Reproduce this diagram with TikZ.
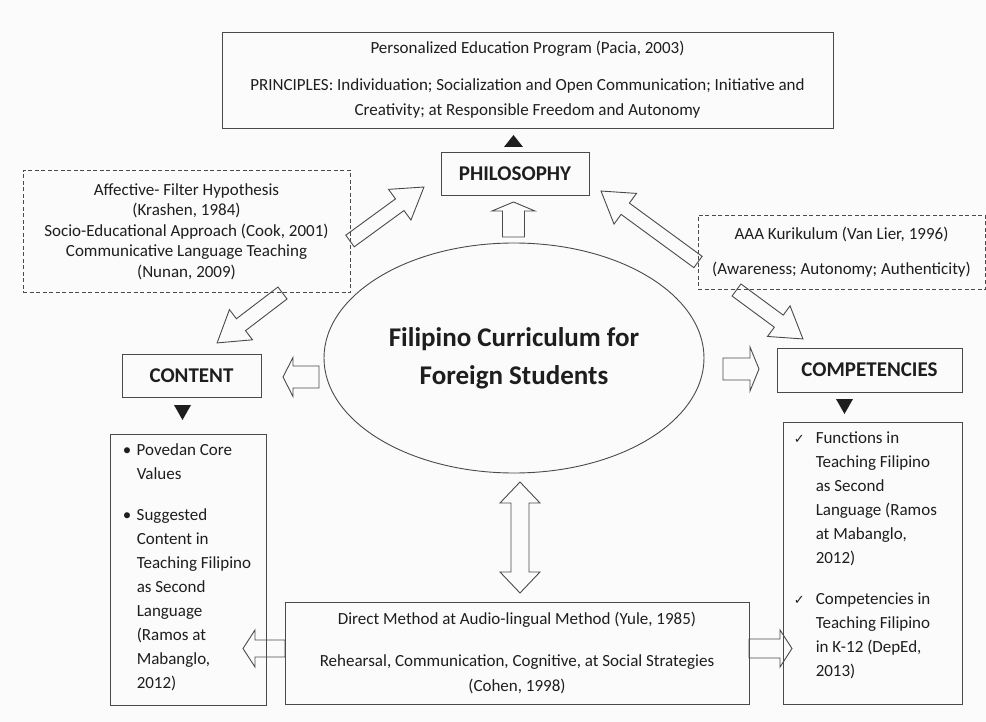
\documentclass[tikz,border=0pt]{standalone}
\usepackage{fontspec}
\setmainfont{Carlito}
\newfontfamily\symfont{DejaVu Sans}
\usetikzlibrary{shapes.geometric,calc}
\definecolor{ln}{HTML}{4A4A4A}
\definecolor{tx}{HTML}{1E1E1E}
\definecolor{bg}{HTML}{FBFBFB}

% hollow single-headed block arrow from coordinate #1 (tail) to #2 (tip)
% #3 shaft half width, #4 head half width, #5 head length
\newcommand\fatarrow[5]{%
  \pgfpointdiff{\pgfpointanchor{#1}{center}}{\pgfpointanchor{#2}{center}}%
  \pgfgetlastxy\fdx\fdy
  \pgfmathsetmacro\fang{atan2(\fdy,\fdx)}%
  \pgfmathsetmacro\flen{veclen(\fdx,\fdy)}%
  \pgfmathsetmacro\fbase{\flen-#5}%
  \draw[arrowline,shift={(#1)},rotate=\fang] (0,-#3) -- (\fbase,-#3) -- (\fbase,-#4) -- (\flen,0) -- (\fbase,#4) -- (\fbase,#3) -- (0,#3) -- cycle;
}
% hollow double-headed block arrow
\newcommand\dfatarrow[5]{%
  \pgfpointdiff{\pgfpointanchor{#1}{center}}{\pgfpointanchor{#2}{center}}%
  \pgfgetlastxy\fdx\fdy
  \pgfmathsetmacro\fang{atan2(\fdy,\fdx)}%
  \pgfmathsetmacro\flen{veclen(\fdx,\fdy)}%
  \pgfmathsetmacro\fbase{\flen-#5}%
  \draw[arrowline,shift={(#1)},rotate=\fang] (0,0) -- (#5,-#4) -- (#5,-#3) -- (\fbase,-#3) -- (\fbase,-#4) -- (\flen,0) -- (\fbase,#4) -- (\fbase,#3) -- (#5,#3) -- (#5,#4) -- cycle;
}

\begin{document}
\begin{tikzpicture}[x=1pt,y=-1pt,
  arrowline/.style={draw=ln,line width=0.9pt,line join=miter},
  box/.style={draw=ln,line width=0.9pt,rectangle,inner sep=0pt,text=tx,align=center},
  dbox/.style={box,dash pattern=on 4pt off 2.5pt},
  lab/.style={box,font=\bfseries\fontsize{21}{25}\selectfont},
  txt/.style={anchor=north west,inner sep=0pt,align=left,text=tx,font=\fontsize{17}{24}\selectfont},
  tri/.style={fill=tx},
]
\path[fill=bg] (0,0) rectangle (986,722);
\useasboundingbox (0,0) rectangle (986,722);

% boxes
\node[box,font=\fontsize{17}{25}\selectfont,minimum width=611,minimum height=96] (top) at (527.5,80)
  {Personalized Education Program (Pacia, 2003)\\[12pt]PRINCIPLES: Individuation; Socialization and Open Communication; Initiative and\\Creativity; at Responsible Freedom and Autonomy};
\node[lab,minimum width=148,minimum height=43] (phil) at (515,173.5) {PHILOSOPHY};
\node[dbox,font=\fontsize{17}{20.5}\selectfont,minimum width=327,minimum height=122] (dl) at (186.5,231.5)
  {Affective- Filter Hypothesis\\(Krashen, 1984)\\Socio-Educational Approach (Cook, 2001)\\Communicative Language Teaching\\(Nunan, 2009)};
\node[dbox,font=\fontsize{17}{20}\selectfont,minimum width=287,minimum height=74] (dr) at (841.5,252.5)
  {AAA Kurikulum (Van Lier, 1996)\\[15pt](Awareness; Autonomy; Authenticity)};
\node[draw=ln,line width=0.9pt,ellipse,minimum width=380,minimum height=230,inner sep=0pt,align=center,text=tx,
  font=\bfseries\fontsize{27}{38}\selectfont] (ell) at (514,358) {Filipino Curriculum for\\Foreign Students};
\node[lab,minimum width=139,minimum height=43] (content) at (191.5,375.5) {CONTENT};
\node[lab,minimum width=185,minimum height=44] (comp) at (869.5,370) {COMPETENCIES};
\node[box,minimum width=156,minimum height=271] (lc) at (188,569.5) {};
\node[box,minimum width=179,minimum height=282] (rc) at (872.5,563) {};
\node[box,font=\fontsize{17}{25}\selectfont,minimum width=464,minimum height=102] (bot) at (517,653)
  {Direct Method at Audio-lingual Method (Yule, 1985)\\[17pt]Rehearsal, Communication, Cognitive, at Social Strategies\\(Cohen, 1998)};

% list texts
\node[txt] (lct) at ($(lc.north west)+(13,10)$)
  {\makebox[14pt][l]{\textbullet}Povedan Core\\\hspace*{14pt}Values\\[17pt]%
   \makebox[14pt][l]{\textbullet}Suggested\\\hspace*{14pt}Content in\\\hspace*{14pt}Teaching Filipino\\\hspace*{14pt}as Second\\%
   \hspace*{14pt}Language\\\hspace*{14pt}(Ramos at\\\hspace*{14pt}Mabanglo,\\\hspace*{14pt}2012)};
\node[txt] (rct) at ($(rc.north west)+(11,10)$)
  {\makebox[22pt][l]{\symfont\fontsize{13}{24}\selectfont ✓}Functions in\\\hspace*{22pt}Teaching Filipino\\\hspace*{22pt}as Second\\%
   \hspace*{22pt}Language (Ramos\\\hspace*{22pt}at Mabanglo,\\\hspace*{22pt}2012)\\[17pt]%
   \makebox[22pt][l]{\symfont\fontsize{13}{24}\selectfont ✓}Competencies in\\\hspace*{22pt}Teaching Filipino\\\hspace*{22pt}in K-12 (DepEd,\\\hspace*{22pt}2013)};

% small black triangles
\coordinate (tri1) at (513.5,141);
\coordinate (tri2) at (182.5,412.5);
\coordinate (tri3) at (844.5,406.5);
\fill[tri] (tri1) ++(-9.5,6) -- ++(19,0) -- ++(-9.5,-12) -- cycle;
\fill[tri] (tri2) ++(-8.5,-7.5) -- ++(17,0) -- ++(-8.5,15) -- cycle;
\fill[tri] (tri3) ++(-8.5,-7.5) -- ++(17,0) -- ++(-8.5,15) -- cycle;

% block arrow end points
\coordinate (u1) at (513.5,237);   \coordinate (u2) at (513.5,202);
\coordinate (l1) at (319,377);     \coordinate (l2) at (283,377);
\coordinate (r1) at (723,369);     \coordinate (r2) at (759,369);
\coordinate (v1) at (520,593);     \coordinate (v2) at (520,482);
\coordinate (bl1) at (285,648.5);  \coordinate (bl2) at (243,648.5);
\coordinate (br1) at (749,648.5);  \coordinate (br2) at (792,648.5);
\coordinate (a1t) at (350,241);    \coordinate (a1h) at (424,187);
\coordinate (a2t) at (282.5,293);  \coordinate (a2h) at (217,343);
\coordinate (a3t) at (698,262);    \coordinate (a3h) at (601,191);
\coordinate (a4t) at (736.5,290);  \coordinate (a4h) at (803,339);

\fatarrow{u1}{u2}{11}{21.5}{9}
\fatarrow{l1}{l2}{11}{19.5}{10}
\fatarrow{r1}{r2}{11}{22}{9}
\dfatarrow{v1}{v2}{9}{20}{21}
\fatarrow{bl1}{bl2}{8.5}{18.5}{12}
\fatarrow{br1}{br2}{9.5}{18.5}{12}
\fatarrow{a1t}{a1h}{7.2}{19}{30}
\fatarrow{a2t}{a2h}{7.5}{19}{30}
\fatarrow{a3t}{a3h}{7}{19}{30}
\fatarrow{a4t}{a4h}{7.5}{19}{30}
\end{tikzpicture}
\end{document}
